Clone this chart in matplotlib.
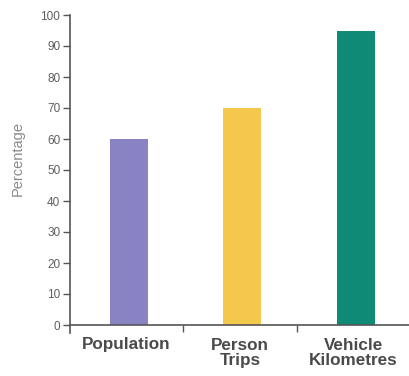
import matplotlib
matplotlib.use("Agg")
import matplotlib.pyplot as plt
import numpy as np

categories = ["Population", "Person\nTrips", "Vehicle\nKilometres"]
percentages = [60, 70, 95]
bar_colors = ["#8a83c3", "#f4c84c", "#0f8a76"]
y_ticks = [0, 10, 20, 30, 40, 50, 60, 70, 80, 90, 100]

plt.rcParams["font.family"] = ["Liberation Sans", "DejaVu Sans"]

fig = plt.figure(figsize=(4.10, 3.76), dpi=100)
ax = fig.add_axes([70 / 410, 1 - 325 / 376, 1 - 70 / 410, (325 - 15) / 376])

x = np.arange(len(categories))
ax.bar(x + 0.02, percentages, width=0.335, color=bar_colors, zorder=2)

axis_color = "#555555"
ax.set_xlim(-0.5, 2.5)
ax.set_ylim(0, 100)
ax.set_yticks(y_ticks)
ax.set_yticklabels([str(v) for v in y_ticks], fontsize=8.5, color="#5e5e5e")

# category names sit between the x ticks, ticks mark the boundaries
ax.set_xticks([0.5, 1.5])
ax.set_xticklabels([])
ax.set_xticks(x, minor=True)
ax.set_xticklabels(categories, minor=True, fontsize=12.3, fontweight="bold",
                   color="#4a4a4a", linespacing=1.02)
ax.tick_params(axis="x", which="minor", length=0, pad=9)
ax.tick_params(axis="x", which="major", length=5, width=1.0, color=axis_color,
               direction="out")
ax.tick_params(axis="y", length=5, width=1.0, color=axis_color, pad=2)

for side in ("top", "right"):
    ax.spines[side].set_visible(False)
for side in ("left", "bottom"):
    ax.spines[side].set_color(axis_color)
    ax.spines[side].set_linewidth(1.2)
ax.spines["left"].set_bounds(-2.5, 100)

fig.text(18 / 410, 1 - 158 / 376, "Percentage", rotation=90, fontsize=10.5,
         color="#8a8a8a", ha="center", va="center")

fig.savefig("out.png", dpi=100, facecolor="white")
